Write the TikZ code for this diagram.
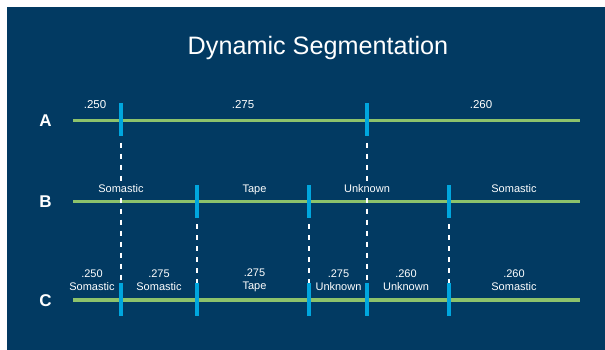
\documentclass[tikz,border=0pt]{standalone}
\usepackage{fontspec}
\setmainfont{Liberation Sans}
\definecolor{bg}{RGB}{2,58,98}
\definecolor{segline}{RGB}{141,194,107}
\definecolor{segblue}{RGB}{0,166,222}
\begin{document}
\begin{tikzpicture}[x=1pt,y=-1pt,
  segline/.style={draw=segline, line width=3.5pt},
  segtick/.style={fill=segblue, draw=none, minimum width=4pt, minimum height=33pt, inner sep=0pt},
  guide/.style={draw=white, line width=2pt, dash pattern=on 5pt off 6pt, dash phase=5pt},
  rowlabel/.style={text=white, font=\fontsize{17}{17}\selectfont\bfseries, anchor=base},
  vlabel/.style={text=white, font=\fontsize{11.5}{13}\selectfont, anchor=base, inner sep=1pt},
  slabel/.style={text=white, font=\fontsize{11}{13}\selectfont, anchor=base, fill=bg, inner sep=1pt},
  clabel/.style={text=white, font=\fontsize{11}{13}\selectfont, align=center, anchor=center, inner sep=1pt}
]
\useasboundingbox (0,0) rectangle (605,350);
\fill[white] (0,0) rectangle (605,350);
\fill[bg] (7,7) rectangle (605,350);

% title
\node[text=white, font=\fontsize{25.2}{25}\selectfont, anchor=base] (title) at (318,55) {Dynamic Segmentation};

% row letters
\node[rowlabel] (la) at (45.5,127) {A};
\node[rowlabel] (lb) at (45.5,207.5) {B};
\node[rowlabel] (lc) at (45.5,306) {C};

% line end points
\coordinate (As) at (73,120.5);  \coordinate (Ae) at (580,120.5);
\coordinate (Bs) at (73,201.5);  \coordinate (Be) at (580,201.5);
\coordinate (Cs) at (73,300);    \coordinate (Ce) at (580,300);
\draw[segline] (As) -- (Ae);
\draw[segline] (Bs) -- (Be);
\draw[segline] (Cs) -- (Ce);

% ticks
\node[segtick] (a1) at (121,120) {};
\node[segtick] (a2) at (367,120) {};
\node[segtick] (b1) at (197,201.5) {};
\node[segtick] (b2) at (309,201.5) {};
\node[segtick] (b3) at (449,201.5) {};
\node[segtick] (c1) at (121,299.5) {};
\node[segtick] (c2) at (197,299.5) {};
\node[segtick] (c3) at (309,299.5) {};
\node[segtick] (c4) at (367,299.5) {};
\node[segtick] (c5) at (449,299.5) {};

% guides
\draw[guide] (a1.south) -- (c1.north);
\draw[guide] (a2.south) -- (c4.north);
\draw[guide] (b1.south) -- (c2.north);
\draw[guide] (b2.south) -- (c3.north);
\draw[guide] (b3.south) -- (c5.north);

% A labels
\node[vlabel] (ta1) at (95,109) {.250};
\node[vlabel] (ta2) at (243,109) {.275};
\node[vlabel] (ta3) at (481,109) {.260};

% B labels
\node[slabel] (tb1) at (121,193) {Somastic};
\node[slabel] (tb2) at (254.5,193) {Tape};
\node[slabel] (tb3) at (367,193) {Unknown};
\node[slabel] (tb4) at (514,193) {Somastic};

% C labels
\node[clabel] (tc1) at (92,280.5) {.250\\Somastic};
\node[clabel] (tc2) at (159,280.5) {.275\\Somastic};
\node[clabel] (tc3) at (254.5,280.5) {.275\\Tape};
\node[clabel] (tc4) at (338.5,280.5) {.275\\Unknown};
\node[clabel] (tc5) at (406,280.5) {.260\\Unknown};
\node[clabel] (tc6) at (514,280.5) {.260\\Somastic};
\end{tikzpicture}
\end{document}
